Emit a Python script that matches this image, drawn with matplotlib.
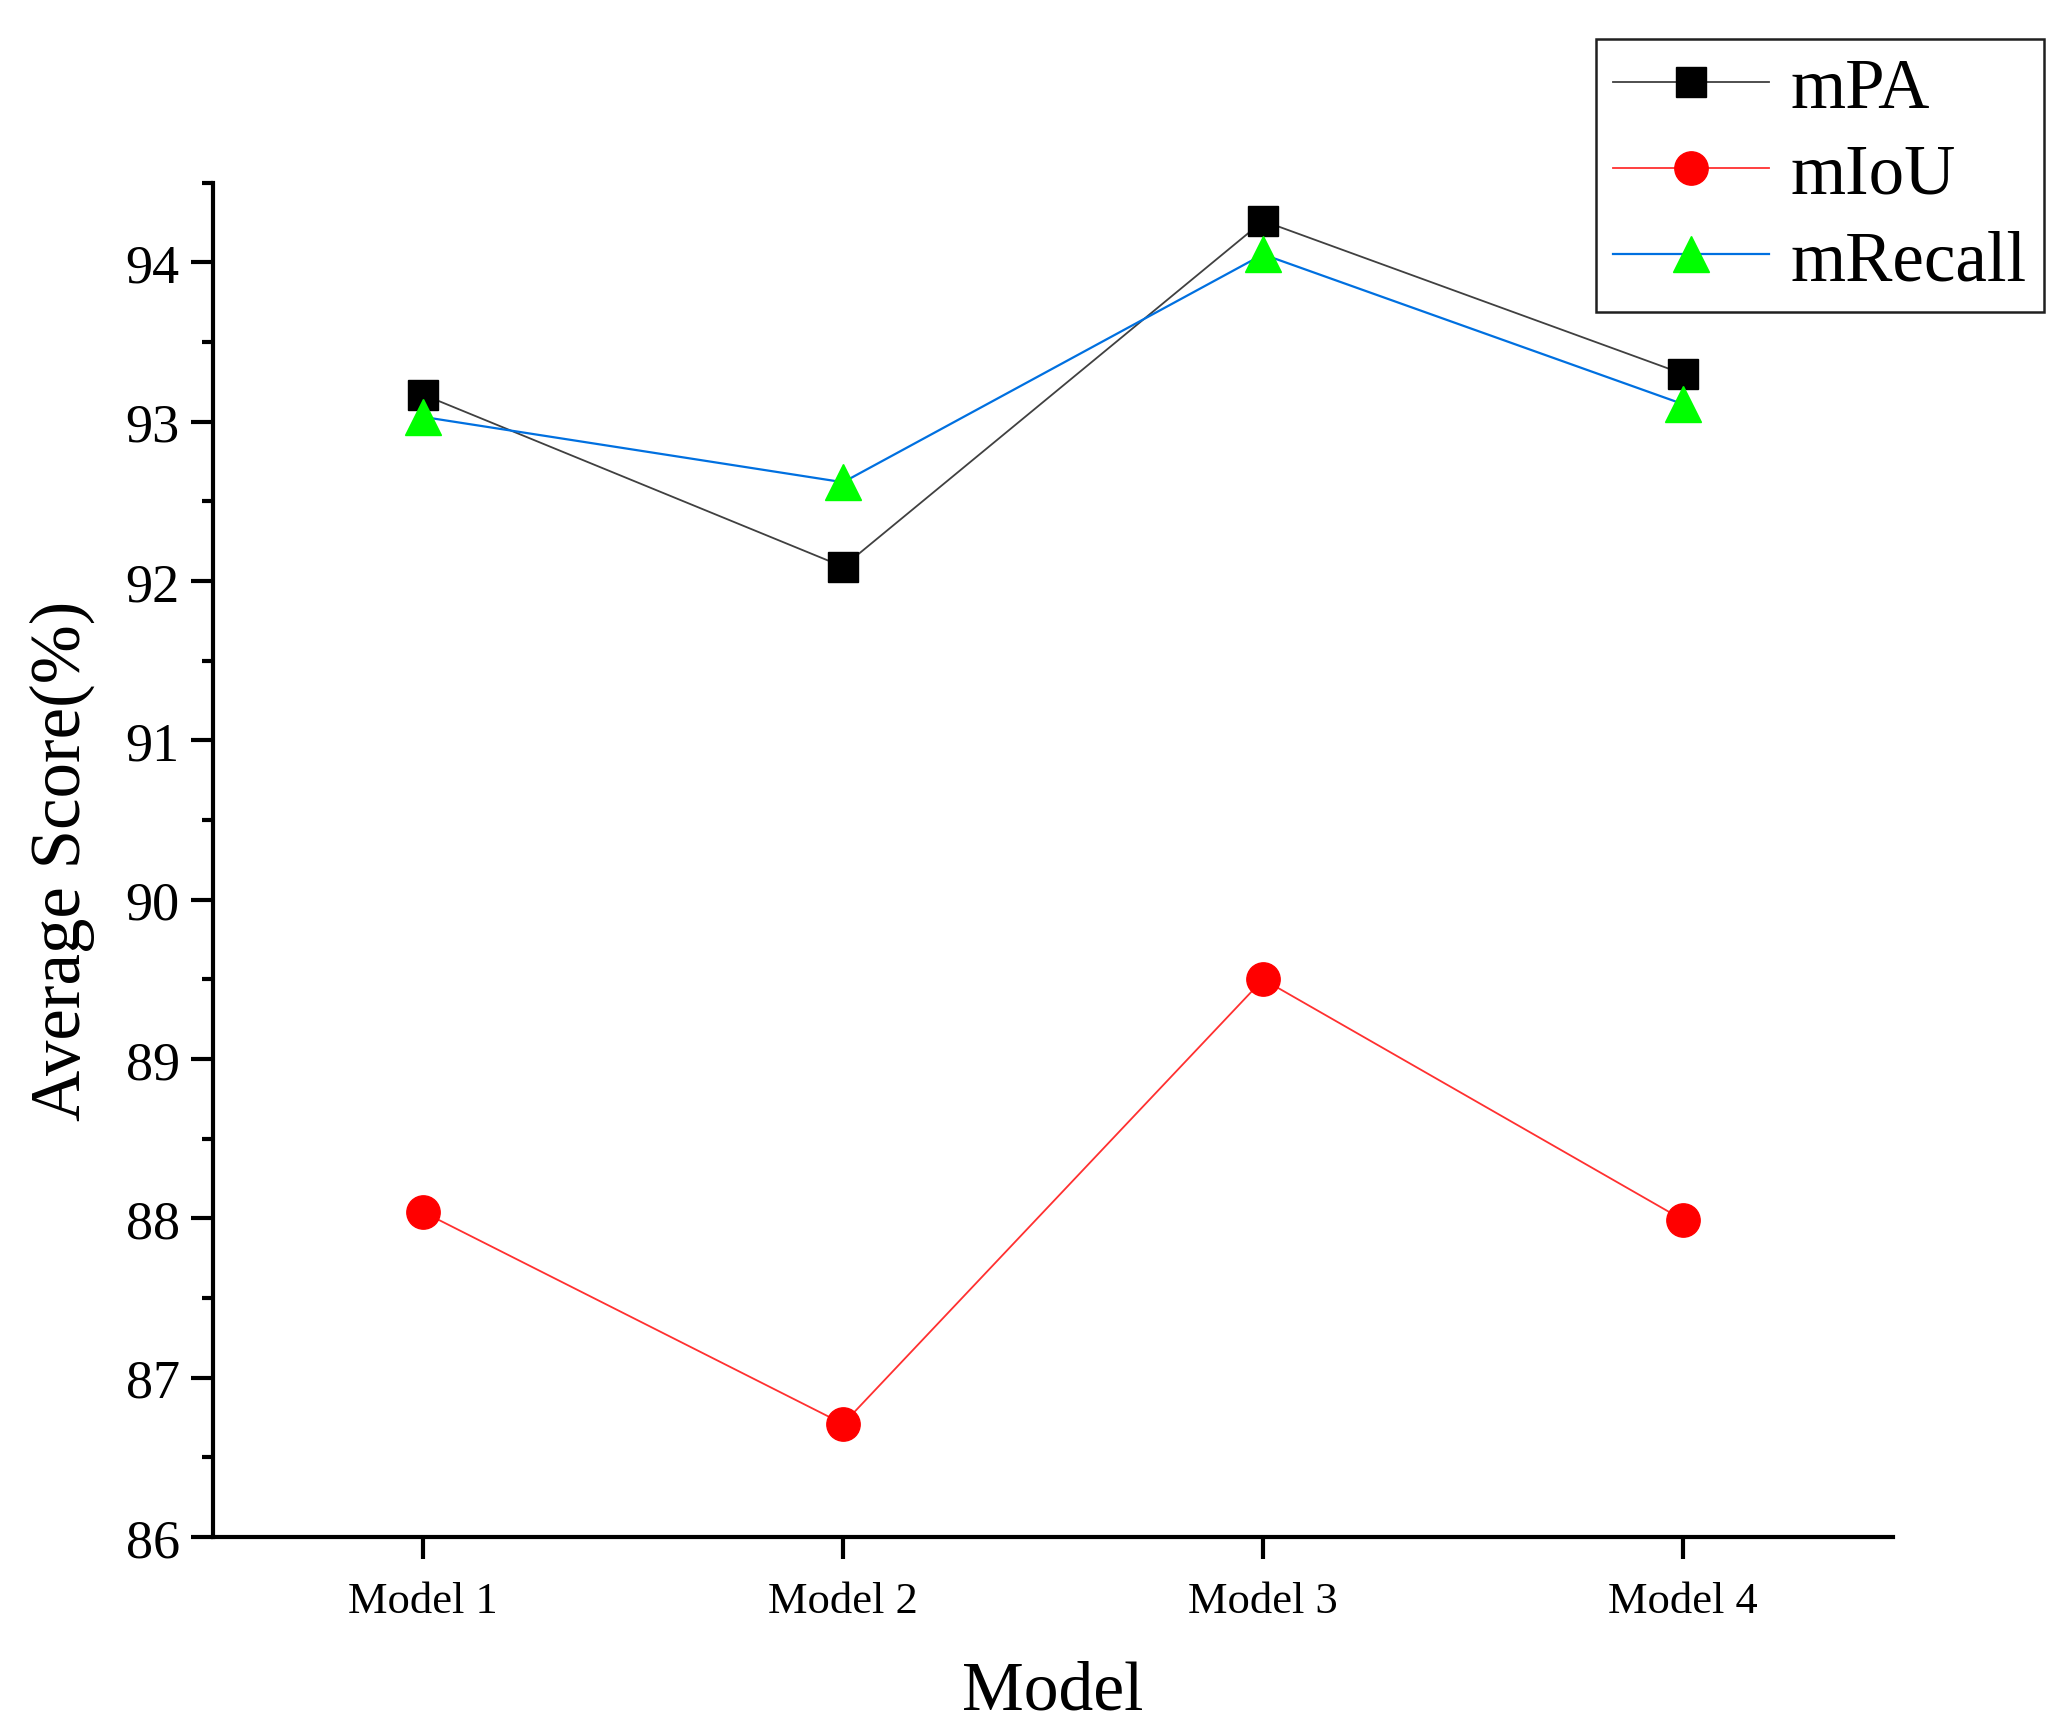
import matplotlib
matplotlib.use('Agg')
import matplotlib.pyplot as plt
from matplotlib.ticker import MultipleLocator

models = ['Model 1', 'Model 2', 'Model 3', 'Model 4']
mpa = [93.17, 92.09, 94.26, 93.30]
miou = [88.04, 86.71, 89.50, 87.99]
mrecall = [93.03, 92.62, 94.05, 93.11]

plt.rcParams['font.family'] = ['Liberation Serif', 'DejaVu Serif']

fig = plt.figure(figsize=(20.69, 17.33), dpi=100)
ax = fig.add_axes([0.103, 0.1125, 0.812, 0.7815])

x = range(1, len(models) + 1)
ax.plot(x, mpa, color='#404040', lw=1.3, marker='s', ms=21,
        mfc='black', mec='black', label='mPA')
ax.plot(x, miou, color='#ff3030', lw=1.3, marker='o', ms=24,
        mfc='red', mec='red', label='mIoU')
ax.plot(x, mrecall, color='#0070e0', lw=1.6, marker='^', ms=26,
        mfc='#00ff00', mec='#00ff00', label='mRecall')

ax.set_xlim(0.5, 4.5)
ax.set_ylim(86, 94.5)
ax.set_xticks(list(x))
ax.set_xticklabels(models, fontsize=32)
ax.yaxis.set_major_locator(MultipleLocator(1))
ax.yaxis.set_minor_locator(MultipleLocator(0.5))
ax.tick_params(axis='y', which='major', labelsize=39, length=16, width=3, pad=8)
ax.tick_params(axis='y', which='minor', length=8, width=3)
ax.tick_params(axis='x', which='major', length=16, width=3, pad=16)

for s in ['top', 'right']:
    ax.spines[s].set_visible(False)
for s in ['left', 'bottom']:
    ax.spines[s].set_linewidth(3)

ax.set_xlabel('Model', fontsize=50, labelpad=28)
ax.set_ylabel('Average Score(%)', fontsize=51, labelpad=22)

leg = ax.legend(loc='upper right', bbox_to_anchor=(0.988, 0.977),
                bbox_transform=fig.transFigure, fontsize=51, fancybox=False,
                edgecolor='#202020', framealpha=1, handlelength=2.2,
                borderpad=0.25, labelspacing=0.3, handletextpad=0.3,
                borderaxespad=0)
leg.get_frame().set_linewidth(1.8)

fig.savefig('out.png', dpi=100)
